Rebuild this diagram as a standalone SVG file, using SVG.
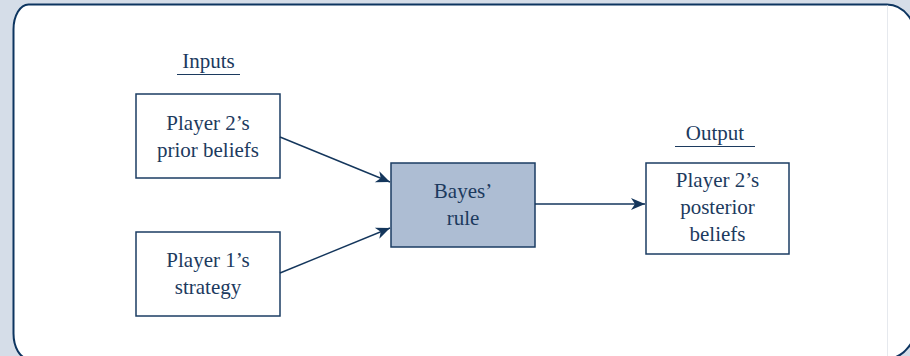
<svg xmlns="http://www.w3.org/2000/svg" width="910" height="356" viewBox="0 0 910 356">
<style>
text{font-family:"Liberation Serif","Times New Roman",serif;font-size:21px;fill:#1c3a5e;text-anchor:middle}
.box{fill:#ffffff;stroke:#1b3d63;stroke-width:1.5}
.hl{fill:#adbdd3;stroke:#1b3d63;stroke-width:1.5}
.edge{stroke:#14365c;stroke-width:1.4;fill:none;marker-end:url(#ah)}
.ul{stroke:#1c3a5e;stroke-width:1.2}
</style>
<defs>
<marker id="ah" markerUnits="userSpaceOnUse" viewBox="-15 -7 16 14" refX="0" refY="0" markerWidth="16" markerHeight="14" orient="auto">
<path d="M0,0 L-14,-6 L-10,0 L-14,6 Z" fill="#14365c"/>
</marker>
</defs>
<rect x="0" y="0" width="910" height="356" fill="#d5dde8"/>
<path d="M13.5,333.6 L13.5,29.5 A15,25 0 0 1 28.5,4.5 L887,4.5 A30,38 0 0 1 917,42.5 L917,320.6 A30,38 0 0 1 887,358.6 L28.5,358.6 A15,25 0 0 1 13.5,333.6 Z" fill="#ffffff" stroke="#0d3560" stroke-width="2"/>
<line x1="887.5" y1="5.5" x2="887.5" y2="358" stroke="#e6e9ee" stroke-width="1"/>
<g id="label-inputs">
<text x="208.5" y="68">Inputs</text>
<line class="ul" x1="177" y1="74.5" x2="240" y2="74.5"/>
</g>
<g id="label-output">
<text x="715" y="140">Output</text>
<line class="ul" x1="675" y1="146.5" x2="755" y2="146.5"/>
</g>
<g id="prior">
<rect class="box" x="136" y="94" width="144" height="84"/>
<text x="208" y="130">Player 2’s</text>
<text x="208" y="157">prior beliefs</text>
</g>
<g id="strategy">
<rect class="box" x="136" y="232" width="144" height="84"/>
<text x="208" y="267">Player 1’s</text>
<text x="208" y="294">strategy</text>
</g>
<g id="bayes">
<rect class="hl" x="391" y="163" width="144" height="84"/>
<text x="463" y="198">Bayes’</text>
<text x="463" y="225">rule</text>
</g>
<g id="posterior">
<rect class="box" x="646" y="163" width="143" height="91"/>
<text x="717.5" y="187">Player 2’s</text>
<text x="717.5" y="214">posterior</text>
<text x="717.5" y="241">beliefs</text>
</g>
<g id="connectors">
<line class="edge" x1="280" y1="137" x2="390" y2="182"/>
<line class="edge" x1="280" y1="273" x2="390" y2="228"/>
<line class="edge" x1="535" y1="204" x2="645" y2="204"/>
</g>
</svg>
